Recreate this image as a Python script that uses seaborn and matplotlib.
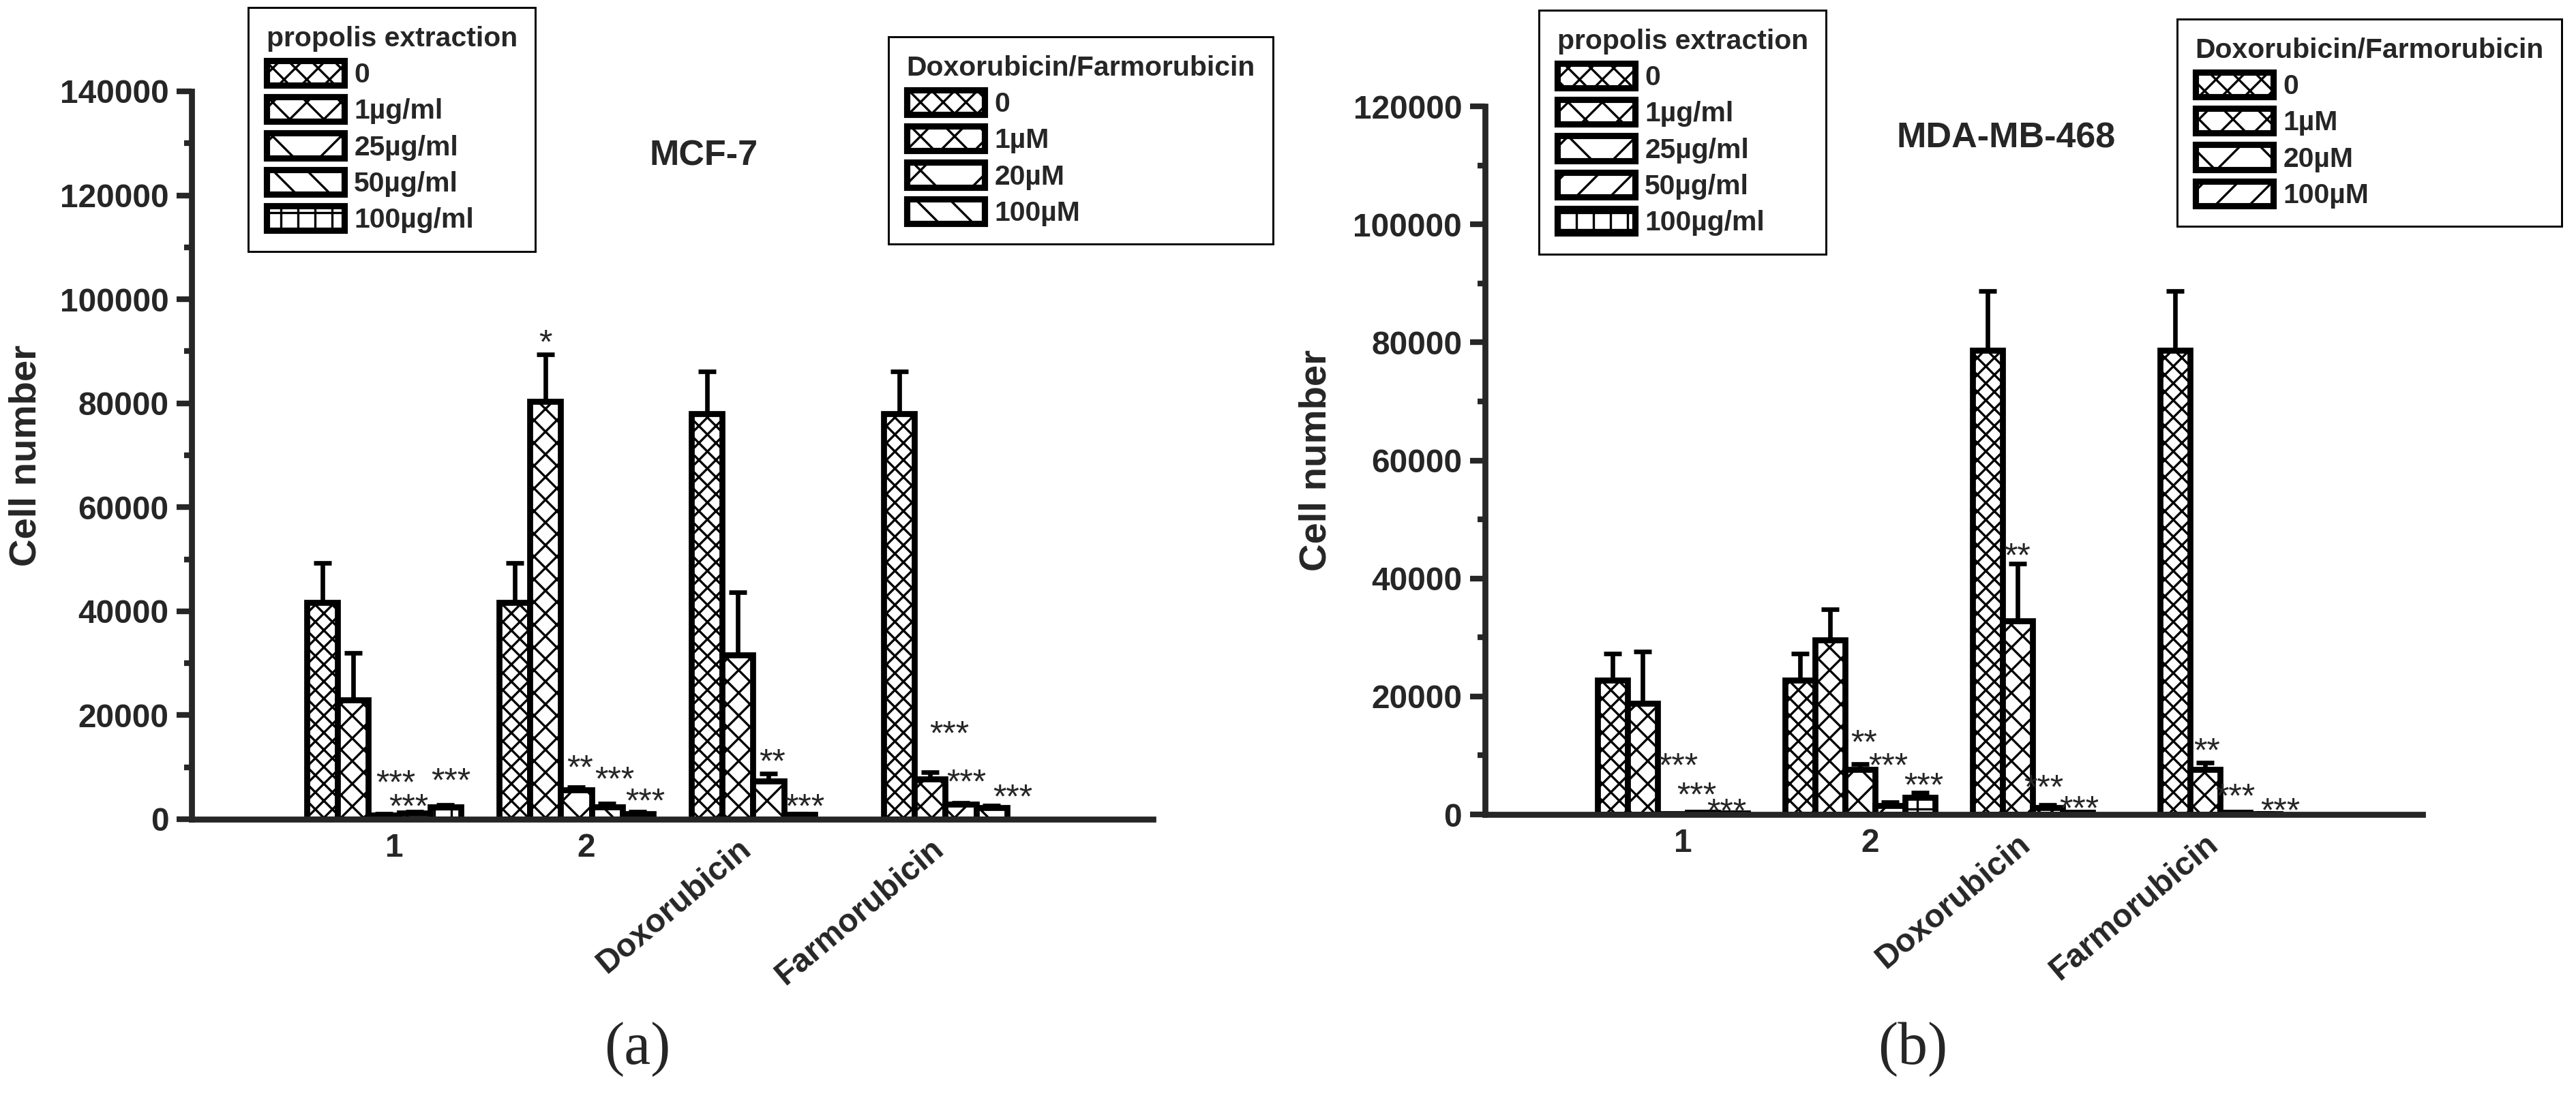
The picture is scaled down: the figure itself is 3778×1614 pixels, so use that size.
import matplotlib
matplotlib.use("Agg")
import matplotlib.pyplot as plt
import seaborn as sns
import pandas as pd
from matplotlib.patches import Patch
from matplotlib.ticker import MultipleLocator
from matplotlib.transforms import ScaledTranslation

# ---- data ----
groups = ["1", "2", "Doxorubicin", "Farmorubicin"]
propolis_labels = ["0", "1µg/ml", "25µg/ml", "50µg/ml", "100µg/ml"]
drug_labels = ["0", "1µM", "20µM", "100µM"]

# MCF-7 (a): one row per group, Doxorubicin/Farmorubicin have 4 doses only
mcf7_mean = [[41750, 23000, 800, 1200, 2300],
             [41750, 80400, 5700, 2300, 1000],
             [78000, 31600, 7300, 900],
             [78000, 7700, 2900, 2200]]
mcf7_sd = [[7500, 9000, 200, 300, 400],
           [7500, 9000, 500, 700, 400],
           [8100, 12000, 1500, 200],
           [8100, 1350, 300, 400]]
mcf7_star_text = ["***", "***", "***", "*", "**", "***", "***", "**", "***", "***", "***", "***"]
mcf7_star_group = [0, 0, 0, 1, 1, 1, 1, 2, 2, 3, 3, 3]
mcf7_star_slot = [2, 3, 4, 1, 2, 3, 4, 2, 3, 1, 2, 3]
mcf7_star_y = [8750, 4120, 9100, 93400, 11600, 9460, 5190, 12800, 4120, 18130, 8930, 5990]

# MDA-MB-468 (b)
mda_mean = [[22700, 18770, 100, 300, 200],
            [22700, 29550, 7600, 1500, 2900],
            [78700, 32850, 1200, 300],
            [78700, 7600, 300, 150]]
mda_sd = [[4500, 8800, 0, 100, 100],
          [4500, 5200, 1000, 600, 850],
          [10000, 9700, 400, 100],
          [10000, 1200, 100, 50]]
mda_star_text = ["***", "***", "***", "**", "***", "***", "**", "***", "***", "**", "***", "***"]
mda_star_group = [0, 0, 0, 1, 1, 1, 2, 2, 2, 3, 3, 3]
mda_star_slot = [2, 3, 4, 2, 3, 4, 1, 2, 3, 1, 2, 3]
mda_star_y = [9830, 4820, 2070, 13770, 9830, 6450, 45370, 6070, 2500, 12320, 4620, 2190]

# small horizontal nudges of the stars (layout only)
mcf7_star_dx = [0.06, -0.03, 0.03, 0, 0.02, 0.04, 0.04, 0.02, 0.03, 0.10, 0.03, 0.11]
mda_star_dx = [0.03, -0.03, -0.03, 0.02, -0.01, 0.02, 0, -0.02, 0.01, 0.01, 0, 0.08]

DPI = 300
sns.set_style("ticks")
plt.rcParams["font.family"] = ["Liberation Sans", "DejaVu Sans"]
plt.rcParams["hatch.linewidth"] = 0.8
plt.rcParams["legend.fancybox"] = False
plt.rcParams["legend.edgecolor"] = "black"
plt.rcParams["legend.framealpha"] = 1

slots = ["d0", "d1", "d2", "d3", "d4"]
bar_hatch_a = ["xxxx", "xxx", "xx", "\\\\", "++"]
bar_hatch_b = ["xxxx", "xxx", "xx", "//", "++"]
leg_hatch_a = ["xxx", "xx", "x", "\\\\", "++"]
leg_hatch_b = ["xxx", "xx", "x", "//", "++"]


def long_table(mean, sd):
    rows = []
    for gi, g in enumerate(groups):
        for k in range(len(mean[gi])):
            rows.append({"group": g, "dose": slots[k], "cells": mean[gi][k], "sd": sd[gi][k]})
    return pd.DataFrame(rows)


def draw_panel(ax, mean, sd, hatches, s_text, s_group, s_slot, s_y, s_dx, ymax, title, title_pos, ylabpad):
    df = long_table(mean, sd)
    sns.barplot(data=df, x="group", y="cells", hue="dose", order=groups, hue_order=slots,
                palette=["white"] * 5, edgecolor="black", linewidth=2.1, errorbar=None,
                width=0.8, legend=False, ax=ax)
    nslot = len(slots)
    w = 0.8 / nslot
    for p in ax.patches:
        xc = p.get_x() + p.get_width() / 2
        gi = int(round(xc))
        k = int(round((xc - gi + 0.4 - w / 2) / w))
        p.set_hatch(hatches[k])
        p.set_zorder(2)
        err = sd[gi][k]
        if err > 0:
            ax.errorbar(xc, p.get_height(), yerr=[[0], [err]], fmt="none", ecolor="black",
                        elinewidth=1.6, capsize=3.2, capthick=1.6, zorder=1)
    for t, g, k, y, dx in zip(s_text, s_group, s_slot, s_y, s_dx):
        x = g - 0.4 + w / 2 + k * w + dx
        ax.annotate(t, xy=(x, y), xytext=(0, -7.0), textcoords="offset points",
                    ha="center", va="baseline", fontsize=12)

    ax.set_xlim(-1, 4)
    ax.set_ylim(0, ymax)
    ax.yaxis.set_major_locator(MultipleLocator(20000))
    ax.yaxis.set_minor_locator(MultipleLocator(10000))
    ax.set_xticks(range(4))
    ax.set_xticklabels(groups)
    ax.set_xlabel("")
    ax.set_ylabel("Cell number", fontsize=13.5, fontweight="bold", labelpad=ylabpad)
    ax.tick_params(axis="y", which="major", length=5.2, width=2.0, pad=2.9, labelsize=11.5)
    ax.tick_params(axis="y", which="minor", length=2.6, width=2.0)
    ax.tick_params(axis="x", length=0, pad=4.8, labelsize=11.5)
    for lab in ax.get_yticklabels() + ax.get_xticklabels():
        lab.set_fontweight("bold")
    shift = ax.figure.dpi_scale_trans
    for lab in ax.get_xticklabels()[:2]:
        lab.set_transform(lab.get_transform() + ScaledTranslation(15 / DPI, 0, shift))
    for lab in ax.get_xticklabels()[2:]:
        lab.set_rotation(40)
        lab.set_ha("right")
        lab.set_va("top")
        lab.set_rotation_mode("anchor")
        lab.set_transform(lab.get_transform() + ScaledTranslation(-45 / DPI, 0, shift))
    sns.despine(ax=ax)
    for s in ("left", "bottom"):
        ax.spines[s].set_linewidth(2.1)
    ax.text(title_pos[0], title_pos[1], title, transform=ax.transAxes, ha="center", va="center",
            fontsize=12.5, fontweight="bold")


def add_legend(fig, labels, hatches, title, anchor):
    handles = [Patch(facecolor="white", edgecolor="black", hatch=h, linewidth=2.2)
               for h in hatches[:len(labels)]]
    leg = fig.legend(handles, labels, title=title, loc="upper left", bbox_to_anchor=anchor,
                     bbox_transform=fig.transFigure, fontsize=9.8, alignment="left",
                     title_fontproperties={"weight": "bold", "size": 9.8},
                     handlelength=2.8, handleheight=1.0, labelspacing=0.32, handletextpad=0.35,
                     borderpad=0.65, borderaxespad=0)
    leg.get_frame().set_linewidth(0.7)
    for t in leg.get_texts():
        t.set_fontweight("bold")
    return leg


fig = plt.figure(figsize=(3778 / DPI, 1614 / DPI), dpi=DPI)
ax_a = fig.add_axes([0.07438, 0.25527, 0.37321, 0.66171])
ax_b = fig.add_axes([0.57649, 0.25960, 0.36395, 0.64374])

draw_panel(ax_a, mcf7_mean, mcf7_sd, bar_hatch_a, mcf7_star_text, mcf7_star_group, mcf7_star_slot,
           mcf7_star_y, mcf7_star_dx, 140000, "MCF-7", (0.533, 0.911), 5.5)
draw_panel(ax_b, mda_mean, mda_sd, bar_hatch_b, mda_star_text, mda_star_group, mda_star_slot,
           mda_star_y, mda_star_dx, 120000, "MDA-MB-468", (0.556, 0.955), 6.8)

add_legend(fig, propolis_labels, leg_hatch_a, "propolis extraction", (364 / 3778, 1 - 11 / 1614))
add_legend(fig, drug_labels, leg_hatch_a, "Doxorubicin/Farmorubicin", (1303 / 3778, 1 - 54 / 1614))
add_legend(fig, propolis_labels, leg_hatch_b, "propolis extraction", (2257 / 3778, 1 - 15 / 1614))
add_legend(fig, drug_labels, leg_hatch_b, "Doxorubicin/Farmorubicin", (3193 / 3778, 1 - 28 / 1614))

fig.text(935 / 3778, 1 - 1540 / 1614, "(a)", ha="center", va="center",
         family=["Liberation Serif", "DejaVu Serif"], fontsize=21)
fig.text(2805 / 3778, 1 - 1540 / 1614, "(b)", ha="center", va="center",
         family=["Liberation Serif", "DejaVu Serif"], fontsize=21)

fig.savefig("out.png", dpi=DPI)
